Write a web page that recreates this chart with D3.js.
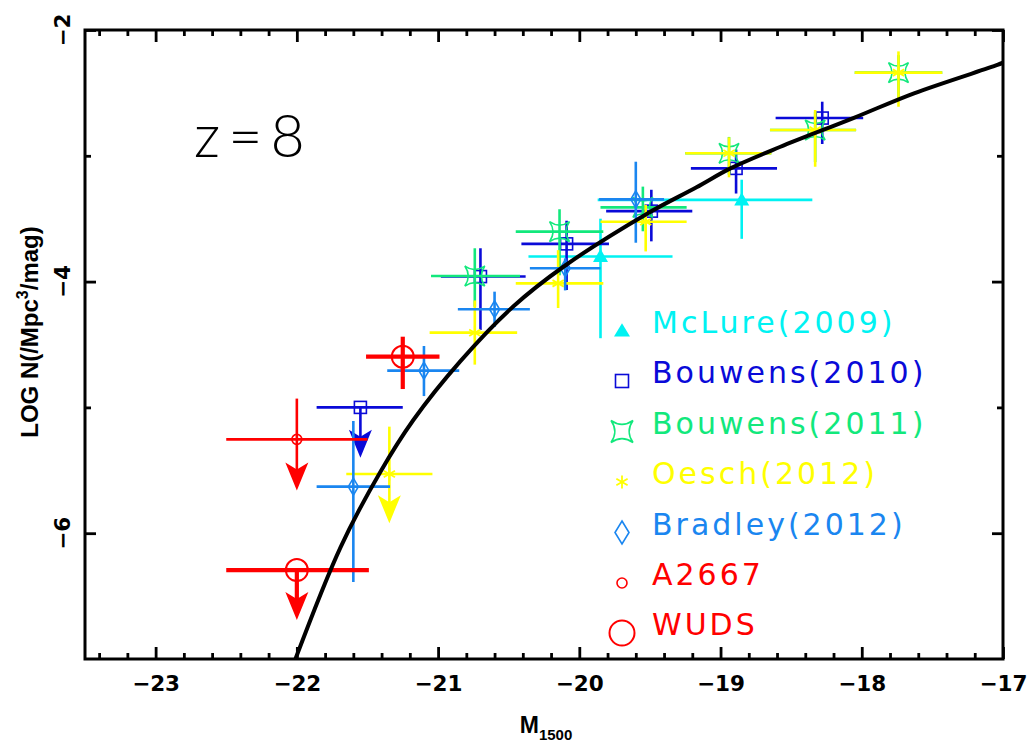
<!DOCTYPE html>
<html><head><meta charset="utf-8">
<script src="https://cdn.jsdelivr.net/npm/d3@7"></script>
<style>
body{margin:0;background:#fff;}
svg{display:block;}
</style></head><body>
<svg id="chart" width="1029" height="743"></svg>
<script>
// ---------- data ----------
const xMajorTicks = [-23, -22, -21, -20, -19, -18, -17];
const xTickLabels = ["\u221223", "\u221222", "\u221221", "\u221220", "\u221219", "\u221218", "\u221217"];
const yMajorTicks = [-2, -4, -6];
const yTickLabels = ["\u22122", "\u22124", "\u22126"];
const yMinorTicks = [-3, -5];

// rows: [M, logN, Mlo, Mhi, logNlo, logNhi]
const mclure = [
  [-19.85, -3.80, -20.36, -19.34, -4.45, -3.50],
  [-18.85, -3.35, -19.87, -18.35, -3.66, -3.19]
];
const bouwens2010 = [
  [-20.70, -3.96, -20.98, -20.38, -4.385, -3.735],
  [-20.09, -3.70, -20.41, -19.79, -4.067, -3.516],
  [-19.49, -3.44, -19.81, -19.20, -3.68, -3.27],
  [-18.89, -3.10, -19.21, -18.60, -3.30, -2.95],
  [-18.28, -2.70, -18.61, -17.99, -2.906, -2.57]
];
// limits: [M, logN, Mlo, Mhi, arrowTip, upperEnd]
const bouwens2010Limits = [[-21.55, -5.00, -21.86, -21.25, -5.40, -5.00]];
const bouwens2011 = [
  [-20.74, -3.956, -21.05, -20.42, -4.20, -3.735],
  [-20.14, -3.603, -20.45, -19.83, -3.95, -3.425],
  [-19.55, -3.41, -19.85, -19.24, -3.60, -3.245],
  [-18.94, -2.98, -19.25, -18.64, -3.15, -2.85],
  [-18.33, -2.795, -18.65, -18.04, -3.05, -2.65],
  [-17.74, -2.339, -18.05, -17.43, -2.55, -2.20]
];
const oesch2012 = [
  [-20.74, -4.406, -21.06, -20.44, -4.66, -4.15],
  [-20.15, -4.014, -20.45, -19.83, -4.21, -3.75],
  [-19.53, -3.524, -19.85, -19.24, -3.76, -3.39],
  [-18.94, -2.98, -19.25, -18.64, -3.171, -2.853],
  [-18.33, -2.795, -18.65, -18.04, -3.087, -2.636],
  [-17.74, -2.339, -18.05, -17.43, -2.61, -2.17]
];
const oesch2012Limits = [[-21.345, -5.53, -21.65, -21.04, -5.92, -5.153]];
const bradley2012 = [
  [-21.60, -5.63, -21.86, -21.34, -6.388, -5.108],
  [-21.10, -4.708, -21.36, -20.85, -4.91, -4.512],
  [-20.60, -4.22, -20.86, -20.35, -4.36, -4.08],
  [-20.10, -3.894, -20.35, -19.85, -4.07, -3.815],
  [-19.60, -3.346, -19.86, -19.40, -3.691, -3.047]
];
const a2667Limits = [[-22.0, -5.254, -22.5, -21.5, -5.66, -4.93]];
const wuds = [[-21.25, -4.597, -21.51, -20.99, -4.854, -4.438]];
const wudsLimits = [[-22.0, -6.293, -22.5, -21.49, -6.69, -6.293]];

// model curve
const curveM    = [-22.01, -21.69, -21.41, -21.175, -20.84, -20.47, -20.11, -19.52, -19.17, -18.93, -18.58, -18.06, -17.63, -17.04, -17.0];
const curveLogN = [-7.00, -6.11, -5.515, -5.10, -4.63, -4.20, -3.88, -3.46, -3.25, -3.10, -2.93, -2.70, -2.503, -2.278, -2.26];

const legendLabels = ["McLure(2009)", "Bouwens(2010)", "Bouwens(2011)", "Oesch(2012)", "Bradley(2012)", "A2667", "WUDS"];
const legendColors = ["#00f2f2", "#0a0ad8", "#12e87c", "#ffff00", "#1a86f0", "#ff0000", "#ff0000"];
const legendSymbols = ["triangle", "square", "star4", "asterisk", "diamond", "circleSmall", "circleBig"];

// ---------- setup ----------
const svg = d3.select("#chart");
const x = d3.scaleLinear().domain([-23.5, -17]).range([85, 1003]);
const y = d3.scaleLinear().domain([-7, -2]).range([659, 30]);
const col = {};
legendLabels.forEach((l, i) => col[l] = legendColors[i]);

svg.append("defs").append("clipPath").attr("id", "clip")
  .append("rect").attr("x", 85).attr("y", 30).attr("width", 918).attr("height", 629);

const plot = svg.append("g");

function symbol(g, type, cx, cy, color, legend) {
  const sw = 1.6;
  if (type === "triangle") {
    const w = legend ? 8 : 7.5, h = legend ? 7 : 7;
    g.append("path").attr("d", `M${cx - w},${cy + h * 0.8}L${cx + w},${cy + h * 0.8}L${cx},${cy - h * 1.1}Z`).attr("fill", color);
  } else if (type === "square") {
    const s = legend ? 6.5 : 6;
    g.append("rect").attr("x", cx - s).attr("y", cy - s).attr("width", 2 * s).attr("height", 2 * s)
      .attr("fill", "none").attr("stroke", color).attr("stroke-width", sw);
  } else if (type === "star4") {
    const s = legend ? 11 : 10, c = s * 0.3;
    g.append("path").attr("d",
      `M${cx - s},${cy - s}Q${cx},${cy - c} ${cx + s},${cy - s}Q${cx + c},${cy} ${cx + s},${cy + s}Q${cx},${cy + c} ${cx - s},${cy + s}Q${cx - c},${cy} ${cx - s},${cy - s}Z`)
      .attr("fill", "none").attr("stroke", color).attr("stroke-width", sw);
  } else if (type === "asterisk") {
    const r = 6.5;
    [90, 30, -30].forEach(a => {
      const dx = r * Math.cos(a * Math.PI / 180), dy = r * Math.sin(a * Math.PI / 180);
      g.append("line").attr("x1", cx - dx).attr("y1", cy - dy).attr("x2", cx + dx).attr("y2", cy + dy)
        .attr("stroke", color).attr("stroke-width", 1.8);
    });
  } else if (type === "diamond") {
    const w = legend ? 7 : 5, h = legend ? 11.5 : 8.5;
    g.append("path").attr("d", `M${cx},${cy - h}L${cx + w},${cy}L${cx},${cy + h}L${cx - w},${cy}Z`)
      .attr("fill", "none").attr("stroke", color).attr("stroke-width", sw);
  } else if (type === "circleSmall") {
    g.append("circle").attr("cx", cx).attr("cy", cy).attr("r", 5)
      .attr("fill", "none").attr("stroke", color).attr("stroke-width", sw);
  } else if (type === "circleBig") {
    g.append("circle").attr("cx", cx).attr("cy", cy).attr("r", legend ? 12.5 : 11)
      .attr("fill", "none").attr("stroke", color).attr("stroke-width", 2);
  }
}

function arrowHead(g, cx, tipY, color) {
  g.append("path").attr("d",
    `M${cx},${tipY}L${cx - 11.5},${tipY - 28}L${cx},${tipY - 21}L${cx + 11.5},${tipY - 28}Z`)
    .attr("fill", color);
}

function drawSeries(rows, type, color, lw) {
  const g = plot.append("g");
  rows.forEach(d => {
    g.append("line").attr("x1", x(d[2])).attr("x2", x(d[3])).attr("y1", y(d[1])).attr("y2", y(d[1]))
      .attr("stroke", color).attr("stroke-width", lw);
    g.append("line").attr("x1", x(d[0])).attr("x2", x(d[0])).attr("y1", y(d[5])).attr("y2", y(d[4]))
      .attr("stroke", color).attr("stroke-width", lw);
    symbol(g, type, x(d[0]), y(d[1]), color, false);
  });
}
function drawLimits(rows, type, color, lw) {
  const g = plot.append("g");
  rows.forEach(d => {
    g.append("line").attr("x1", x(d[2])).attr("x2", x(d[3])).attr("y1", y(d[1])).attr("y2", y(d[1]))
      .attr("stroke", color).attr("stroke-width", lw);
    g.append("line").attr("x1", x(d[0])).attr("x2", x(d[0])).attr("y1", y(d[5])).attr("y2", y(d[4]) - 18)
      .attr("stroke", color).attr("stroke-width", lw);
    arrowHead(g, x(d[0]), y(d[4]), color);
    symbol(g, type, x(d[0]), y(d[1]), color, false);
  });
}

drawSeries(mclure, "triangle", col["McLure(2009)"], 2.6);
drawSeries(bouwens2010, "square", col["Bouwens(2010)"], 2.6);
drawLimits(bouwens2010Limits, "square", col["Bouwens(2010)"], 2.6);
drawSeries(bouwens2011, "star4", col["Bouwens(2011)"], 2.6);
drawSeries(oesch2012, "asterisk", col["Oesch(2012)"], 2.6);
drawLimits(oesch2012Limits, "asterisk", col["Oesch(2012)"], 2.6);
drawSeries(bradley2012, "diamond", col["Bradley(2012)"], 2.6);
drawLimits(a2667Limits, "circleSmall", col["A2667"], 2.6);
drawSeries(wuds, "circleBig", col["WUDS"], 4.2);
drawLimits(wudsLimits, "circleBig", col["WUDS"], 4.2);

// model curve
const curvePts = curveM.map((m, i) => [m, curveLogN[i]]);
svg.append("path").attr("clip-path", "url(#clip)")
  .attr("d", d3.line().x(d => x(d[0])).y(d => y(d[1])).curve(d3.curveCatmullRom.alpha(0.5))(curvePts))
  .attr("fill", "none").attr("stroke", "#000").attr("stroke-width", 4);

// ---------- axes ----------
const xMinor = d3.range(-23.4, -17.05, 0.2).filter(v => Math.abs(v - Math.round(v)) > 0.01);
function styleAxis(g) {
  g.select(".domain").remove();
  g.selectAll("line").attr("stroke", "#000").attr("stroke-width", 2.8);
}
svg.append("g").attr("transform", "translate(0,659)")
  .call(d3.axisBottom(x).tickValues(xMinor).tickSize(-6).tickFormat(""))
  .call(styleAxis);
svg.append("g").attr("transform", "translate(0,30)")
  .call(d3.axisTop(x).tickValues(xMinor).tickSize(-6).tickFormat(""))
  .call(styleAxis);
svg.append("g").attr("transform", "translate(0,30)")
  .call(d3.axisTop(x).tickValues(xMajorTicks).tickSize(-12).tickFormat(""))
  .call(styleAxis);
const xb = svg.append("g").attr("transform", "translate(0,659)")
  .call(d3.axisBottom(x).tickValues(xMajorTicks).tickSize(-12).tickPadding(17)
    .tickFormat((d, i) => xTickLabels[i]))
  .call(styleAxis);
xb.selectAll("text").attr("font-family", "DejaVu Sans").attr("font-weight", "bold")
  .attr("font-size", 21.5).attr("fill", "#000");

svg.append("g").attr("transform", "translate(85,0)")
  .call(d3.axisLeft(y).tickValues(yMajorTicks).tickSize(-11).tickFormat("")).call(styleAxis);
svg.append("g").attr("transform", "translate(85,0)")
  .call(d3.axisLeft(y).tickValues(yMinorTicks).tickSize(-6).tickFormat("")).call(styleAxis);
svg.append("g").attr("transform", "translate(1003,0)")
  .call(d3.axisRight(y).tickValues(yMajorTicks).tickSize(-11).tickFormat("")).call(styleAxis);
svg.append("g").attr("transform", "translate(1003,0)")
  .call(d3.axisRight(y).tickValues(yMinorTicks).tickSize(-6).tickFormat("")).call(styleAxis);

yMajorTicks.forEach((v, i) => {
  svg.append("text").attr("transform", `translate(70,${y(v)}) rotate(-90)`)
    .attr("text-anchor", "middle").attr("font-family", "DejaVu Sans").attr("font-weight", "bold")
    .attr("font-size", 21.5).text(yTickLabels[i]);
});

svg.append("rect").attr("x", 85).attr("y", 30).attr("width", 918).attr("height", 629)
  .attr("fill", "none").attr("stroke", "#000").attr("stroke-width", 3);

// axis titles
const yt = svg.append("text").attr("transform", "translate(38,332) rotate(-90)")
  .attr("text-anchor", "middle").attr("font-family", "Liberation Sans").attr("font-weight", "bold")
  .attr("font-size", 24);
yt.append("tspan").text("LOG N(/Mpc");
yt.append("tspan").attr("font-size", 16).attr("dy", -10).text("3");
yt.append("tspan").attr("dy", 10).text("/mag)");

const xt = svg.append("text").attr("x", 546).attr("y", 733)
  .attr("text-anchor", "middle").attr("font-family", "Liberation Sans").attr("font-weight", "bold")
  .attr("font-size", 23);
xt.append("tspan").text("M");
xt.append("tspan").attr("font-size", 15).attr("dy", 7).text("1500");

// z=8 label
svg.append("text").attr("x", 194).attr("y", 157).attr("font-family", "Lato").attr("font-weight", 300)
  .attr("font-size", 59).attr("letter-spacing", 8).attr("fill", "#000").text("z=8");

// ---------- legend ----------
const legendBase = [333, 383, 433.5, 484, 534.5, 585, 635];
legendLabels.forEach((l, i) => {
  const g = svg.append("g");
  symbol(g, legendSymbols[i], 622, legendBase[i] - 2, legendColors[i], true);
  g.append("text").attr("x", 652).attr("y", legendBase[i]).attr("font-family", "DejaVu Sans")
    .attr("font-size", 30).attr("letter-spacing", 3).attr("fill", legendColors[i]).text(l);
});
</script>
</body></html>
